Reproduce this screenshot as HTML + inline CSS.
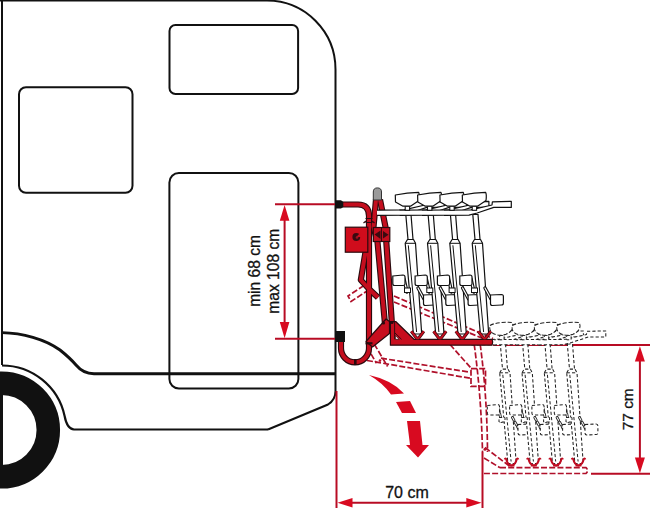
<!DOCTYPE html>
<html><head><meta charset="utf-8">
<style>
html,body{margin:0;padding:0;background:#fff;width:650px;height:508px;overflow:hidden}
svg{display:block}
text{font-family:"Liberation Sans",sans-serif}
</style></head>
<body>
<svg width="650" height="508" viewBox="0 0 650 508" xmlns="http://www.w3.org/2000/svg">



<g fill="none" stroke="#111" stroke-width="2">
  <path d="M2,0 V365"/>
  <path d="M0,0.6 H267 A68.5,68.9 0 0 1 335.5,69.5 V391 Q335.5,400 328,404.5 L268,429.5"/>
  <path d="M268,429.5 H74 Q67,429 64.6,416 A64,64 0 0 0 2,365.5" stroke-width="2.2"/>
  <path d="M2,332.6 C22,333 45,339 60,350 Q70,358 76,365 Q83,373.5 94,373.8 H335.5" stroke-width="2.9"/>
  <rect x="19" y="87.2" width="113.5" height="105.6" rx="7"/>
  <rect x="169.5" y="25" width="128.6" height="69" rx="6"/>
  <rect x="169.4" y="173" width="129" height="215.6" rx="9.5"/>
</g>


<circle cx="1.5" cy="430" r="46.8" fill="none" stroke="#111" stroke-width="23.5"/>
<rect x="0" y="392" width="3" height="76" fill="#111"/>


<g stroke="#b80c24" stroke-width="2" fill="none">
  <path d="M275,204.3 H340"/>
  <path d="M275,338.8 H340"/>
  <path d="M284.6,218 V325"/>
</g>
<path d="M284.6,205 L289.4,220.8 L279.8,220.8 Z" fill="#d80a20"/>
<path d="M284.6,338.3 L289.4,322 L279.8,322 Z" fill="#d80a20"/>
<text transform="translate(260.3,270.9) rotate(-90)" text-anchor="middle" font-size="15.6" fill="#111" stroke="#111" stroke-width="0.3">min 68 cm</text>
<text transform="translate(279.1,271.2) rotate(-90)" text-anchor="middle" font-size="15.6" fill="#111" stroke="#111" stroke-width="0.3">max 108 cm</text>


<g stroke="#b80c24" stroke-width="2" fill="none">
  <path d="M336.5,391 V508"/>
  <path d="M482.5,452 V508"/>
  <path d="M352,502.7 H467"/>
</g>
<path d="M337.5,502.7 L352.5,498 L352.5,507.4 Z" fill="#d80a20"/>
<path d="M481.5,502.7 L466.3,498 L466.3,507.4 Z" fill="#d80a20"/>
<text x="407" y="498" text-anchor="middle" font-size="16" fill="#111" stroke="#111" stroke-width="0.3">70 cm</text>


<g stroke="#b80c24" stroke-width="2" fill="none">
  <path d="M493,345 H650"/>
  <path d="M591,473.8 H650"/>
  <path d="M639.9,360 V458"/>
</g>
<path d="M639.9,346.3 L644.9,361.6 L634.9,361.6 Z" fill="#d80a20"/>
<path d="M639.9,473.2 L644.9,457.6 L634.9,457.6 Z" fill="#d80a20"/>
<text transform="translate(632.8,409.3) rotate(-90)" text-anchor="middle" font-size="15.4" fill="#111" stroke="#111" stroke-width="0.3">77 cm</text>


<g fill="#d80a20">
  <path d="M369,375 Q392,380 404,393.5 L391,394.5 Q383,383 369,375 Z"/>
  <path d="M396,402 L410,401 L416,413 L402,413 Z"/>
  <path d="M407,421 L420,421 L422.5,445 L429,445 L418,457.5 L406,445 L410,445 Z"/>
</g>


<g fill="none" stroke="#b0102a" stroke-width="1.7" stroke-dasharray="6,2.2">
  <path d="M364,285.5 L348,296 L351,301.5 L367,291"/>
  <path d="M394,296 L493,338.5 M394,302 L483,338.5"/>
  <path d="M374.2,344 L387.6,366.5 M371,353.9 L376.5,363.3"/>
  <path d="M381,358.2 L470.5,372.3 M367,360.5 L470.5,378.3"/>
  <path d="M450,344.5 L470.5,367.5"/>
  <path d="M471,368.7 H485.5 V386.4 H471 Z"/>
  <path d="M474.2,344.4 Q481.25,395.8 482.5,452 M480.2,344.4 Q487.15,395.8 487.5,452"/>
  <path d="M485,447.5 L510,466.5 M484,458 L500,467.7"/>
  <path d="M500,467.7 H586 Q589,470.5 586,473.5 H483"/>
</g>
<circle cx="380" cy="360.6" r="1.3" fill="#b8102a"/>
<circle cx="485" cy="449.3" r="1.5" fill="#b8102a"/>


<g transform="translate(94.5,129.5)" stroke-dasharray="3.2,2.1">
  <g transform="translate(0,0)">
  
  <path d="M405.2,243.3 L407.5,239.5 L413.5,239.5 L415.5,243.3 L421.7,334 L413.4,334 Z" fill="#fff" stroke="#222" stroke-width="1.05" stroke-linejoin="round"/>
  <path d="M408.3,245.3 L416.6,332 M405.2,243.3 H415.5" fill="none" stroke="#222" stroke-width="1"/>
  
  <path d="M405.8,214.5 L411,214.5 L413,239.5 L408,239.5 Z" fill="#fff" stroke="#222" stroke-width="1.05"/>
  
  <path d="M404,279 L407,292 M418,288 L424,299" fill="none" stroke="#222" stroke-width="2.8" stroke-linecap="round"/>
  <path d="M404,279 L407,292 M418,288 L424,299" fill="none" stroke="#fff" stroke-width="1.05" stroke-linecap="round"/>
  <rect x="404.5" y="288" width="6" height="4.5" fill="#fff" stroke="#222" stroke-width="1"/>
  
  <path d="M392.8,276 L403,275 Q405,275 405,277 L405,284 Q405,285.5 403,285.5 L394.5,285.5 Q392.8,285.5 392.8,283.5 Z" fill="#fff" stroke="#222" stroke-width="1.05"/>
  <path d="M423.5,295 L434.5,294.5 Q436.4,294.5 436.4,296.5 L436.4,303 Q436.4,305 434.5,305 L425.3,305.5 Q423.5,305.5 423.5,303.5 Z" fill="#fff" stroke="#222" stroke-width="1.05"/>
  
  <path d="M377,210.2 L404,209.8 L425,205 L425.4,201.8 L444.3,201.4 L444.3,207.4 L426.8,207.4 L410.2,213 L402,215.2 L377,215.4 Z" fill="#fff"/><path d="M377,215.4 L402,215.2 L410.2,213 L426.8,207.4 L444.3,207.4 L444.3,201.4 L425.4,201.8 L425,205 L404,209.8 L377,210.2" fill="none" stroke="#222" stroke-width="1.05" stroke-linejoin="round"/>
  </g>
  <g transform="translate(22.3,0)">
  
  <path d="M405.2,243.3 L407.5,239.5 L413.5,239.5 L415.5,243.3 L421.7,334 L413.4,334 Z" fill="#fff" stroke="#222" stroke-width="1.05" stroke-linejoin="round"/>
  <path d="M408.3,245.3 L416.6,332 M405.2,243.3 H415.5" fill="none" stroke="#222" stroke-width="1"/>
  
  <path d="M405.8,214.5 L411,214.5 L413,239.5 L408,239.5 Z" fill="#fff" stroke="#222" stroke-width="1.05"/>
  
  <path d="M404,279 L407,292 M418,288 L424,299" fill="none" stroke="#222" stroke-width="2.8" stroke-linecap="round"/>
  <path d="M404,279 L407,292 M418,288 L424,299" fill="none" stroke="#fff" stroke-width="1.05" stroke-linecap="round"/>
  <rect x="404.5" y="288" width="6" height="4.5" fill="#fff" stroke="#222" stroke-width="1"/>
  
  <path d="M392.8,276 L403,275 Q405,275 405,277 L405,284 Q405,285.5 403,285.5 L394.5,285.5 Q392.8,285.5 392.8,283.5 Z" fill="#fff" stroke="#222" stroke-width="1.05"/>
  <path d="M423.5,295 L434.5,294.5 Q436.4,294.5 436.4,296.5 L436.4,303 Q436.4,305 434.5,305 L425.3,305.5 Q423.5,305.5 423.5,303.5 Z" fill="#fff" stroke="#222" stroke-width="1.05"/>
  
  <path d="M377,210.2 L404,209.8 L425,205 L425.4,201.8 L444.3,201.4 L444.3,207.4 L426.8,207.4 L410.2,213 L402,215.2 L377,215.4 Z" fill="#fff"/><path d="M377,215.4 L402,215.2 L410.2,213 L426.8,207.4 L444.3,207.4 L444.3,201.4 L425.4,201.8 L425,205 L404,209.8 L377,210.2" fill="none" stroke="#222" stroke-width="1.05" stroke-linejoin="round"/>
  </g>
  <g transform="translate(44.6,0)">
  
  <path d="M405.2,243.3 L407.5,239.5 L413.5,239.5 L415.5,243.3 L421.7,334 L413.4,334 Z" fill="#fff" stroke="#222" stroke-width="1.05" stroke-linejoin="round"/>
  <path d="M408.3,245.3 L416.6,332 M405.2,243.3 H415.5" fill="none" stroke="#222" stroke-width="1"/>
  
  <path d="M405.8,214.5 L411,214.5 L413,239.5 L408,239.5 Z" fill="#fff" stroke="#222" stroke-width="1.05"/>
  
  <path d="M404,279 L407,292 M418,288 L424,299" fill="none" stroke="#222" stroke-width="2.8" stroke-linecap="round"/>
  <path d="M404,279 L407,292 M418,288 L424,299" fill="none" stroke="#fff" stroke-width="1.05" stroke-linecap="round"/>
  <rect x="404.5" y="288" width="6" height="4.5" fill="#fff" stroke="#222" stroke-width="1"/>
  
  <path d="M392.8,276 L403,275 Q405,275 405,277 L405,284 Q405,285.5 403,285.5 L394.5,285.5 Q392.8,285.5 392.8,283.5 Z" fill="#fff" stroke="#222" stroke-width="1.05"/>
  <path d="M423.5,295 L434.5,294.5 Q436.4,294.5 436.4,296.5 L436.4,303 Q436.4,305 434.5,305 L425.3,305.5 Q423.5,305.5 423.5,303.5 Z" fill="#fff" stroke="#222" stroke-width="1.05"/>
  
  <path d="M377,210.2 L404,209.8 L425,205 L425.4,201.8 L444.3,201.4 L444.3,207.4 L426.8,207.4 L410.2,213 L402,215.2 L377,215.4 Z" fill="#fff"/><path d="M377,215.4 L402,215.2 L410.2,213 L426.8,207.4 L444.3,207.4 L444.3,201.4 L425.4,201.8 L425,205 L404,209.8 L377,210.2" fill="none" stroke="#222" stroke-width="1.05" stroke-linejoin="round"/>
  </g>
  <g transform="translate(67,0)">
  
  <path d="M405.2,243.3 L407.5,239.5 L413.5,239.5 L415.5,243.3 L421.7,334 L413.4,334 Z" fill="#fff" stroke="#222" stroke-width="1.05" stroke-linejoin="round"/>
  <path d="M408.3,245.3 L416.6,332 M405.2,243.3 H415.5" fill="none" stroke="#222" stroke-width="1"/>
  
  <path d="M405.8,214.5 L411,214.5 L413,239.5 L408,239.5 Z" fill="#fff" stroke="#222" stroke-width="1.05"/>
  
  <path d="M404,279 L407,292 M418,288 L424,299" fill="none" stroke="#222" stroke-width="2.8" stroke-linecap="round"/>
  <path d="M404,279 L407,292 M418,288 L424,299" fill="none" stroke="#fff" stroke-width="1.05" stroke-linecap="round"/>
  <rect x="404.5" y="288" width="6" height="4.5" fill="#fff" stroke="#222" stroke-width="1"/>
  
  <path d="M392.8,276 L403,275 Q405,275 405,277 L405,284 Q405,285.5 403,285.5 L394.5,285.5 Q392.8,285.5 392.8,283.5 Z" fill="#fff" stroke="#222" stroke-width="1.05"/>
  <path d="M423.5,295 L434.5,294.5 Q436.4,294.5 436.4,296.5 L436.4,303 Q436.4,305 434.5,305 L425.3,305.5 Q423.5,305.5 423.5,303.5 Z" fill="#fff" stroke="#222" stroke-width="1.05"/>
  
  <path d="M377,210.2 L404,209.8 L425,205 L425.4,201.8 L444.3,201.4 L444.3,207.4 L426.8,207.4 L410.2,213 L402,215.2 L377,215.4 Z" fill="#fff"/><path d="M377,215.4 L402,215.2 L410.2,213 L426.8,207.4 L444.3,207.4 L444.3,201.4 L425.4,201.8 L425,205 L404,209.8 L377,210.2" fill="none" stroke="#222" stroke-width="1.05" stroke-linejoin="round"/>
  </g>
  <g transform="translate(0,0)">
  
  <rect x="405.2" y="206" width="4.4" height="4.3" fill="#fff" stroke="#222" stroke-width="1"/>
  
  <path d="M395.5,196 C400,193 412,192.2 417.5,193 C420,197 418,202 411.5,204.8 C406,206.6 400,205.6 397,202.8 C395,200.6 395,198 395.5,196 Z" stroke-dasharray="4.2,1.8" fill="#fff" stroke="#222" stroke-width="1.05" stroke-linejoin="round"/>
</g>
  <g transform="translate(22.3,0)">
  
  <rect x="405.2" y="206" width="4.4" height="4.3" fill="#fff" stroke="#222" stroke-width="1"/>
  
  <path d="M395.5,196 C400,193 412,192.2 417.5,193 C420,197 418,202 411.5,204.8 C406,206.6 400,205.6 397,202.8 C395,200.6 395,198 395.5,196 Z" stroke-dasharray="4.2,1.8" fill="#fff" stroke="#222" stroke-width="1.05" stroke-linejoin="round"/>
</g>
  <g transform="translate(44.6,0)">
  
  <rect x="405.2" y="206" width="4.4" height="4.3" fill="#fff" stroke="#222" stroke-width="1"/>
  
  <path d="M395.5,196 C400,193 412,192.2 417.5,193 C420,197 418,202 411.5,204.8 C406,206.6 400,205.6 397,202.8 C395,200.6 395,198 395.5,196 Z" stroke-dasharray="4.2,1.8" fill="#fff" stroke="#222" stroke-width="1.05" stroke-linejoin="round"/>
</g>
  <g transform="translate(67,0)">
  
  <rect x="405.2" y="206" width="4.4" height="4.3" fill="#fff" stroke="#222" stroke-width="1"/>
  
  <path d="M395.5,196 C400,193 412,192.2 417.5,193 C420,197 418,202 411.5,204.8 C406,206.6 400,205.6 397,202.8 C395,200.6 395,198 395.5,196 Z" stroke-dasharray="4.2,1.8" fill="#fff" stroke="#222" stroke-width="1.05" stroke-linejoin="round"/>
</g>
</g>
<g transform="translate(94,128.5)">
  <g transform="translate(0,0)">
  <path d="M410.8,331 Q411,329.5 412.2,330.5 Q413.5,336.5 417.5,337 Q421.5,336.5 422.8,330.5 Q424,329.5 424.2,331" fill="none" stroke="#c00c22" stroke-width="2"/>
  <path d="M414.5,337 H420.5" stroke="#c00c22" stroke-width="2"/>
</g>
  <g transform="translate(22.3,0)">
  <path d="M410.8,331 Q411,329.5 412.2,330.5 Q413.5,336.5 417.5,337 Q421.5,336.5 422.8,330.5 Q424,329.5 424.2,331" fill="none" stroke="#c00c22" stroke-width="2"/>
  <path d="M414.5,337 H420.5" stroke="#c00c22" stroke-width="2"/>
</g>
  <g transform="translate(44.6,0)">
  <path d="M410.8,331 Q411,329.5 412.2,330.5 Q413.5,336.5 417.5,337 Q421.5,336.5 422.8,330.5 Q424,329.5 424.2,331" fill="none" stroke="#c00c22" stroke-width="2"/>
  <path d="M414.5,337 H420.5" stroke="#c00c22" stroke-width="2"/>
</g>
  <g transform="translate(67,0)">
  <path d="M410.8,331 Q411,329.5 412.2,330.5 Q413.5,336.5 417.5,337 Q421.5,336.5 422.8,330.5 Q424,329.5 424.2,331" fill="none" stroke="#c00c22" stroke-width="2"/>
  <path d="M414.5,337 H420.5" stroke="#c00c22" stroke-width="2"/>
</g>
</g>


<g fill="none" stroke-linecap="butt" stroke-linejoin="round">
  <g stroke="#2a0a0e" stroke-width="6.2">
    <path d="M341,338 V348.3 A14,14 0 0 0 369,348.3 V216 Q369,204.5 358,204.5 H342"/>
    <path d="M365.5,252 L360.8,280 L369.5,289.5 L378,297.5"/>
    <path d="M376,199.5 L373.5,227 L377.5,242 L385,324"/>
    <path d="M380,199.5 L385.5,227 L386.3,242 L391.8,322"/>
  </g>
  <g stroke="#c40e1e" stroke-width="4">
    <path d="M341,338 V348.3 A14,14 0 0 0 369,348.3 V216 Q369,204.5 358,204.5 H342"/>
    <path d="M365.5,252 L360.8,280 L369.5,289.5 L378,297.5"/>
    <path d="M376,199.5 L373.5,227 L377.5,242 L385,324"/>
    <path d="M380,199.5 L385.5,227 L386.3,242 L391.8,322"/>
  </g>
</g>

<path d="M366,341.5 L386,319 L389.5,321.5 L389.5,333.5 L372.5,347 Z" fill="#c80e1e" stroke="#2a0a0e" stroke-width="1.2" stroke-linejoin="round"/>

<path d="M390.4,321.5 L395.7,321.5 L414,339.3 L492,339.3 Q493.5,342.2 492,345.2 L390.4,345.2 Z" fill="#c80e1e" stroke="#2a0a0e" stroke-width="1.2" stroke-linejoin="round"/>
<path d="M395.4,335.6 L395.4,339.3 L399.2,339.3 Z" fill="#fff" stroke="#2a0a0e" stroke-width="0.7"/>
<path d="M395,333 L401.5,339.3 M394.6,321.5 V339.3" fill="none" stroke="#2a0a0e" stroke-width="0.9"/>

<g fill="#2a0a0e">
  <rect x="365.5" y="342.2" width="7" height="2.2"/>
  <circle cx="383.5" cy="323" r="1.6"/>
  <circle cx="392" cy="322.5" r="1.6"/>
  <rect x="354" y="359" width="2.6" height="6"/>
</g>
<path d="M365.5,218.5 H372.5 M365.5,222.5 H372.5" stroke="#2a0a0e" stroke-width="1"/>
<path d="M363.5,223 L366,221 M372,221 L374.5,223" stroke="#2a0a0e" stroke-width="1.2"/>

<rect x="345.3" y="227.2" width="22.5" height="25" fill="#d00c1c" stroke="#2a0a0e" stroke-width="1.2"/>
<circle cx="356.3" cy="237" r="3.9" fill="#3a0a10"/>
<path d="M356.3,237 L360.5,232.5 L361,237 Z" fill="#d00c1c"/>
<circle cx="357" cy="237.5" r="1.3" fill="#a01020"/>

<path d="M373.3,200 V192 A4.1,4.1 0 0 1 381.5,192 V200 Z" fill="#9a9a9a" stroke="#333" stroke-width="1"/>

<path d="M335,200.3 L341,200.3 L343.3,202 L343.3,207 L341,208.6 L335,208.6 Z" fill="#111"/>
<rect x="335" y="331" width="10" height="11" fill="#111"/>

<rect x="373.3" y="227.5" width="16.5" height="14" fill="#c40e1e" stroke="#2a0a0e" stroke-width="1.2"/>
<path d="M374.5,234.5 L380.5,230.5 L380.5,239 Z M383,231 L388.5,234.8 L383,238.6 Z" fill="#3a0a10"/>
<path d="M381.5,227.5 V241.5" stroke="#2a0a0e" stroke-width="0.9"/>

<g>
  <g transform="translate(0,0)">
  
  <path d="M405.2,243.3 L407.5,239.5 L413.5,239.5 L415.5,243.3 L421.7,334 L413.4,334 Z" fill="#fff" stroke="#111" stroke-width="1.2" stroke-linejoin="round"/>
  <path d="M408.3,245.3 L416.6,332 M405.2,243.3 H415.5" fill="none" stroke="#111" stroke-width="1"/>
  
  <path d="M405.8,214.5 L411,214.5 L413,239.5 L408,239.5 Z" fill="#fff" stroke="#111" stroke-width="1.2"/>
  
  <path d="M404,279 L407,292 M418,288 L424,299" fill="none" stroke="#111" stroke-width="3.4" stroke-linecap="round"/>
  <path d="M404,279 L407,292 M418,288 L424,299" fill="none" stroke="#fff" stroke-width="1.2" stroke-linecap="round"/>
  <rect x="404.5" y="288" width="6" height="4.5" fill="#fff" stroke="#111" stroke-width="1"/>
  
  <path d="M392.8,276 L403,275 Q405,275 405,277 L405,284 Q405,285.5 403,285.5 L394.5,285.5 Q392.8,285.5 392.8,283.5 Z" fill="#fff" stroke="#111" stroke-width="1.2"/>
  <path d="M423.5,295 L434.5,294.5 Q436.4,294.5 436.4,296.5 L436.4,303 Q436.4,305 434.5,305 L425.3,305.5 Q423.5,305.5 423.5,303.5 Z" fill="#fff" stroke="#111" stroke-width="1.2"/>
  
  <path d="M377,210.2 L404,209.8 L425,205 L425.4,201.8 L444.3,201.4 L444.3,207.4 L426.8,207.4 L410.2,213 L402,215.2 L377,215.4 Z" fill="#fff"/><path d="M377,215.4 L402,215.2 L410.2,213 L426.8,207.4 L444.3,207.4 L444.3,201.4 L425.4,201.8 L425,205 L404,209.8 L377,210.2" fill="none" stroke="#111" stroke-width="1.2" stroke-linejoin="round"/>
  </g>
  <g transform="translate(22.3,0)">
  
  <path d="M405.2,243.3 L407.5,239.5 L413.5,239.5 L415.5,243.3 L421.7,334 L413.4,334 Z" fill="#fff" stroke="#111" stroke-width="1.2" stroke-linejoin="round"/>
  <path d="M408.3,245.3 L416.6,332 M405.2,243.3 H415.5" fill="none" stroke="#111" stroke-width="1"/>
  
  <path d="M405.8,214.5 L411,214.5 L413,239.5 L408,239.5 Z" fill="#fff" stroke="#111" stroke-width="1.2"/>
  
  <path d="M404,279 L407,292 M418,288 L424,299" fill="none" stroke="#111" stroke-width="3.4" stroke-linecap="round"/>
  <path d="M404,279 L407,292 M418,288 L424,299" fill="none" stroke="#fff" stroke-width="1.2" stroke-linecap="round"/>
  <rect x="404.5" y="288" width="6" height="4.5" fill="#fff" stroke="#111" stroke-width="1"/>
  
  <path d="M392.8,276 L403,275 Q405,275 405,277 L405,284 Q405,285.5 403,285.5 L394.5,285.5 Q392.8,285.5 392.8,283.5 Z" fill="#fff" stroke="#111" stroke-width="1.2"/>
  <path d="M423.5,295 L434.5,294.5 Q436.4,294.5 436.4,296.5 L436.4,303 Q436.4,305 434.5,305 L425.3,305.5 Q423.5,305.5 423.5,303.5 Z" fill="#fff" stroke="#111" stroke-width="1.2"/>
  
  <path d="M377,210.2 L404,209.8 L425,205 L425.4,201.8 L444.3,201.4 L444.3,207.4 L426.8,207.4 L410.2,213 L402,215.2 L377,215.4 Z" fill="#fff"/><path d="M377,215.4 L402,215.2 L410.2,213 L426.8,207.4 L444.3,207.4 L444.3,201.4 L425.4,201.8 L425,205 L404,209.8 L377,210.2" fill="none" stroke="#111" stroke-width="1.2" stroke-linejoin="round"/>
  </g>
  <g transform="translate(44.6,0)">
  
  <path d="M405.2,243.3 L407.5,239.5 L413.5,239.5 L415.5,243.3 L421.7,334 L413.4,334 Z" fill="#fff" stroke="#111" stroke-width="1.2" stroke-linejoin="round"/>
  <path d="M408.3,245.3 L416.6,332 M405.2,243.3 H415.5" fill="none" stroke="#111" stroke-width="1"/>
  
  <path d="M405.8,214.5 L411,214.5 L413,239.5 L408,239.5 Z" fill="#fff" stroke="#111" stroke-width="1.2"/>
  
  <path d="M404,279 L407,292 M418,288 L424,299" fill="none" stroke="#111" stroke-width="3.4" stroke-linecap="round"/>
  <path d="M404,279 L407,292 M418,288 L424,299" fill="none" stroke="#fff" stroke-width="1.2" stroke-linecap="round"/>
  <rect x="404.5" y="288" width="6" height="4.5" fill="#fff" stroke="#111" stroke-width="1"/>
  
  <path d="M392.8,276 L403,275 Q405,275 405,277 L405,284 Q405,285.5 403,285.5 L394.5,285.5 Q392.8,285.5 392.8,283.5 Z" fill="#fff" stroke="#111" stroke-width="1.2"/>
  <path d="M423.5,295 L434.5,294.5 Q436.4,294.5 436.4,296.5 L436.4,303 Q436.4,305 434.5,305 L425.3,305.5 Q423.5,305.5 423.5,303.5 Z" fill="#fff" stroke="#111" stroke-width="1.2"/>
  
  <path d="M377,210.2 L404,209.8 L425,205 L425.4,201.8 L444.3,201.4 L444.3,207.4 L426.8,207.4 L410.2,213 L402,215.2 L377,215.4 Z" fill="#fff"/><path d="M377,215.4 L402,215.2 L410.2,213 L426.8,207.4 L444.3,207.4 L444.3,201.4 L425.4,201.8 L425,205 L404,209.8 L377,210.2" fill="none" stroke="#111" stroke-width="1.2" stroke-linejoin="round"/>
  </g>
  <g transform="translate(67,0)">
  
  <path d="M405.2,243.3 L407.5,239.5 L413.5,239.5 L415.5,243.3 L421.7,334 L413.4,334 Z" fill="#fff" stroke="#111" stroke-width="1.2" stroke-linejoin="round"/>
  <path d="M408.3,245.3 L416.6,332 M405.2,243.3 H415.5" fill="none" stroke="#111" stroke-width="1"/>
  
  <path d="M405.8,214.5 L411,214.5 L413,239.5 L408,239.5 Z" fill="#fff" stroke="#111" stroke-width="1.2"/>
  
  <path d="M404,279 L407,292 M418,288 L424,299" fill="none" stroke="#111" stroke-width="3.4" stroke-linecap="round"/>
  <path d="M404,279 L407,292 M418,288 L424,299" fill="none" stroke="#fff" stroke-width="1.2" stroke-linecap="round"/>
  <rect x="404.5" y="288" width="6" height="4.5" fill="#fff" stroke="#111" stroke-width="1"/>
  
  <path d="M392.8,276 L403,275 Q405,275 405,277 L405,284 Q405,285.5 403,285.5 L394.5,285.5 Q392.8,285.5 392.8,283.5 Z" fill="#fff" stroke="#111" stroke-width="1.2"/>
  <path d="M423.5,295 L434.5,294.5 Q436.4,294.5 436.4,296.5 L436.4,303 Q436.4,305 434.5,305 L425.3,305.5 Q423.5,305.5 423.5,303.5 Z" fill="#fff" stroke="#111" stroke-width="1.2"/>
  
  <path d="M377,210.2 L404,209.8 L425,205 L425.4,201.8 L444.3,201.4 L444.3,207.4 L426.8,207.4 L410.2,213 L402,215.2 L377,215.4 Z" fill="#fff"/><path d="M377,215.4 L402,215.2 L410.2,213 L426.8,207.4 L444.3,207.4 L444.3,201.4 L425.4,201.8 L425,205 L404,209.8 L377,210.2" fill="none" stroke="#111" stroke-width="1.2" stroke-linejoin="round"/>
  </g>
  <g transform="translate(0,0)">
  
  <rect x="405.2" y="206" width="4.4" height="4.3" fill="#fff" stroke="#111" stroke-width="1.1"/>
  
  <path d="M395.3,195 C402,193.6 411,192.4 418.6,192.3 Q419.8,194.5 419,200.5 L410.5,206.2 L403,206.2 L395.5,202 Z" fill="#fff" stroke="#111" stroke-width="1.2" stroke-linejoin="round"/>
</g>
  <g transform="translate(22.3,0)">
  
  <rect x="405.2" y="206" width="4.4" height="4.3" fill="#fff" stroke="#111" stroke-width="1.1"/>
  
  <path d="M395.3,195 C402,193.6 411,192.4 418.6,192.3 Q419.8,194.5 419,200.5 L410.5,206.2 L403,206.2 L395.5,202 Z" fill="#fff" stroke="#111" stroke-width="1.2" stroke-linejoin="round"/>
</g>
  <g transform="translate(44.6,0)">
  
  <rect x="405.2" y="206" width="4.4" height="4.3" fill="#fff" stroke="#111" stroke-width="1.1"/>
  
  <path d="M395.3,195 C402,193.6 411,192.4 418.6,192.3 Q419.8,194.5 419,200.5 L410.5,206.2 L403,206.2 L395.5,202 Z" fill="#fff" stroke="#111" stroke-width="1.2" stroke-linejoin="round"/>
</g>
  <g transform="translate(67,0)">
  
  <rect x="405.2" y="206" width="4.4" height="4.3" fill="#fff" stroke="#111" stroke-width="1.1"/>
  
  <path d="M395.3,195 C402,193.6 411,192.4 418.6,192.3 Q419.8,194.5 419,200.5 L410.5,206.2 L403,206.2 L395.5,202 Z" fill="#fff" stroke="#111" stroke-width="1.2" stroke-linejoin="round"/>
</g>
</g>
<g>
  <g transform="translate(0,0)">
  <path d="M411.3,331.3 L416.6,338.2 L418.6,338.2 L423.8,331.3" fill="none" stroke="#3a0a10" stroke-width="3.2" stroke-linejoin="round"/>
  <path d="M411.3,331.3 L416.6,338.2 L418.6,338.2 L423.8,331.3" fill="none" stroke="#c40e1e" stroke-width="1.9" stroke-linejoin="round"/>
</g>
  <g transform="translate(22.3,0)">
  <path d="M411.3,331.3 L416.6,338.2 L418.6,338.2 L423.8,331.3" fill="none" stroke="#3a0a10" stroke-width="3.2" stroke-linejoin="round"/>
  <path d="M411.3,331.3 L416.6,338.2 L418.6,338.2 L423.8,331.3" fill="none" stroke="#c40e1e" stroke-width="1.9" stroke-linejoin="round"/>
</g>
  <g transform="translate(44.6,0)">
  <path d="M411.3,331.3 L416.6,338.2 L418.6,338.2 L423.8,331.3" fill="none" stroke="#3a0a10" stroke-width="3.2" stroke-linejoin="round"/>
  <path d="M411.3,331.3 L416.6,338.2 L418.6,338.2 L423.8,331.3" fill="none" stroke="#c40e1e" stroke-width="1.9" stroke-linejoin="round"/>
</g>
  <g transform="translate(67,0)">
  <path d="M411.3,331.3 L416.6,338.2 L418.6,338.2 L423.8,331.3" fill="none" stroke="#3a0a10" stroke-width="3.2" stroke-linejoin="round"/>
  <path d="M411.3,331.3 L416.6,338.2 L418.6,338.2 L423.8,331.3" fill="none" stroke="#c40e1e" stroke-width="1.9" stroke-linejoin="round"/>
</g>
</g>


</svg>
</body></html>
